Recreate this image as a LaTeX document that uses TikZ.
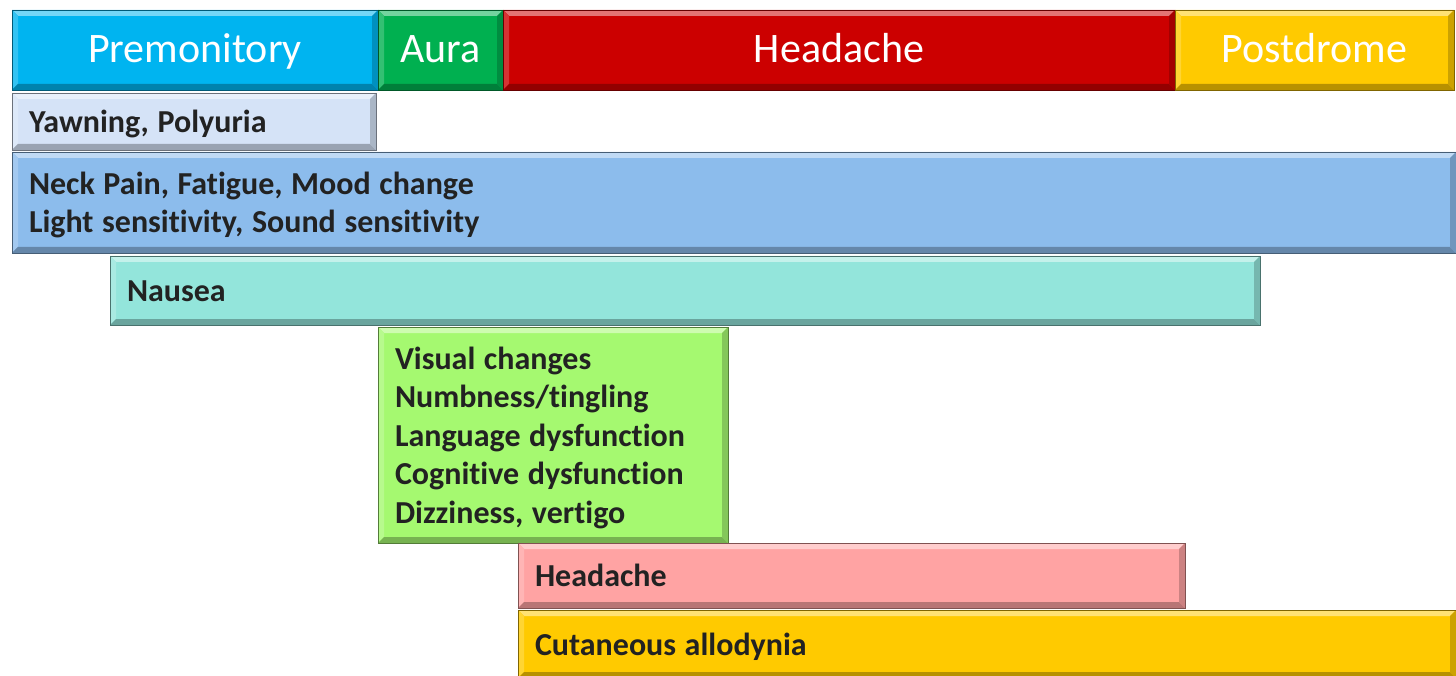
\documentclass[tikz,border=0pt]{standalone}
\usepackage{fontspec}
\setmainfont[Ligatures=NoCommon]{Carlito}
\definecolor{cPre}{HTML}{00B4F0}
\definecolor{cAura}{HTML}{00B050}
\definecolor{cHead}{HTML}{CC0000}
\definecolor{cPost}{HTML}{FFCA00}
\definecolor{cYawn}{HTML}{D5E3F7}
\definecolor{cNeck}{HTML}{8CBCEC}
\definecolor{cNaus}{HTML}{93E5DB}
\definecolor{cVis}{HTML}{A5F970}
\definecolor{cHa}{HTML}{FFA3A3}
\definecolor{cCut}{HTML}{FFCA00}
\definecolor{txt}{HTML}{222222}
\newcommand\bvl[2]{%
  \fill[#2!55!white] (#1.north west) -- (#1.north east) -- ([shift={(-6,6)}]#1.north east) -- ([shift={(6,6)}]#1.north west) -- cycle;
  \fill[#2!80!white] (#1.north west) -- (#1.south west) -- ([shift={(6,-6)}]#1.south west) -- ([shift={(6,6)}]#1.north west) -- cycle;
  \fill[#2!72!black] (#1.south west) -- (#1.south east) -- ([shift={(-6,-6)}]#1.south east) -- ([shift={(6,-6)}]#1.south west) -- cycle;
  \fill[#2!80!black] (#1.north east) -- (#1.south east) -- ([shift={(-6,-6)}]#1.south east) -- ([shift={(-6,6)}]#1.north east) -- cycle;
  \draw[#2!50!black, line width=0.8pt] (#1.north west) rectangle (#1.south east);
}
\newcommand\symtop{\spaceskip 8.6pt\xspaceskip 8.6pt\rule{0pt}{34pt}}
\newcommand\symbot{\rule[-12pt]{0pt}{0pt}}
\newcommand\hdtop{\rule{0pt}{40pt}}
\newcommand\hdbot{\rule[-14pt]{0pt}{0pt}}
\begin{document}
\begin{tikzpicture}[x=1pt,y=-1pt,
  base/.style={anchor=north west, inner ysep=0pt, outer sep=0pt, fill=#1},
  head/.style={base=#1, text=white, font=\fontsize{42}{50}\selectfont, align=center, inner xsep=0pt},
  sym/.style={base=#1, text=txt, font=\bfseries\fontsize{32}{38.5}\selectfont, align=left, inner xsep=17pt}]
\useasboundingbox (0,0) rectangle (1456,676);
\fill[white] (0,0) rectangle (1456,676);
% header
\node[head=cPre, minimum width=366pt, minimum height=80pt] (pre) at (12,10) {\hdtop Premonitory\hdbot};
\bvl{pre}{cPre}
\node[head=cAura, minimum width=125pt, minimum height=80pt] (aura) at (378,10) {\hdtop Aura\hdbot};
\bvl{aura}{cAura}
\node[head=cHead, minimum width=672pt, minimum height=80pt] (head) at (503,10) {\hdtop Headache\hdbot};
\bvl{head}{cHead}
\node[head=cPost, minimum width=279pt, minimum height=80pt] (post) at (1175,10) {\hdtop Postdrome\hdbot};
\bvl{post}{cPost}
% symptoms
\node[sym=cYawn, minimum height=57pt, text width=330pt] (yawn) at (12,93) {\symtop Yawning, Polyuria\symbot};
\bvl{yawn}{cYawn}
\node[sym=cNeck, minimum height=101pt, text width=1410pt] (neck) at (12,152) {\symtop Neck Pain, Fatigue, Mood change\\Light sensitivity, Sound sensitivity\symbot};
\bvl{neck}{cNeck}
\node[sym=cNaus, minimum height=69pt, text width=1116pt] (naus) at (110,256) {\symtop Nausea\symbot};
\bvl{naus}{cNaus}
\node[sym=cVis, minimum height=216pt, text width=316pt] (vis) at (378,327) {\symtop Visual changes\\Numbness/tingling\\Language dysfunction\\Cognitive dysfunction\\Dizziness, vertigo\symbot};
\bvl{vis}{cVis}
\node[sym=cHa, minimum height=65pt, text width=633pt] (ha) at (518,543) {\symtop Headache\symbot};
\bvl{ha}{cHa}
\node[sym=cCut, minimum height=68pt, text width=904pt] (cut) at (518,610) {\symtop Cutaneous allodynia\symbot};
\bvl{cut}{cCut}
\end{tikzpicture}
\end{document}
